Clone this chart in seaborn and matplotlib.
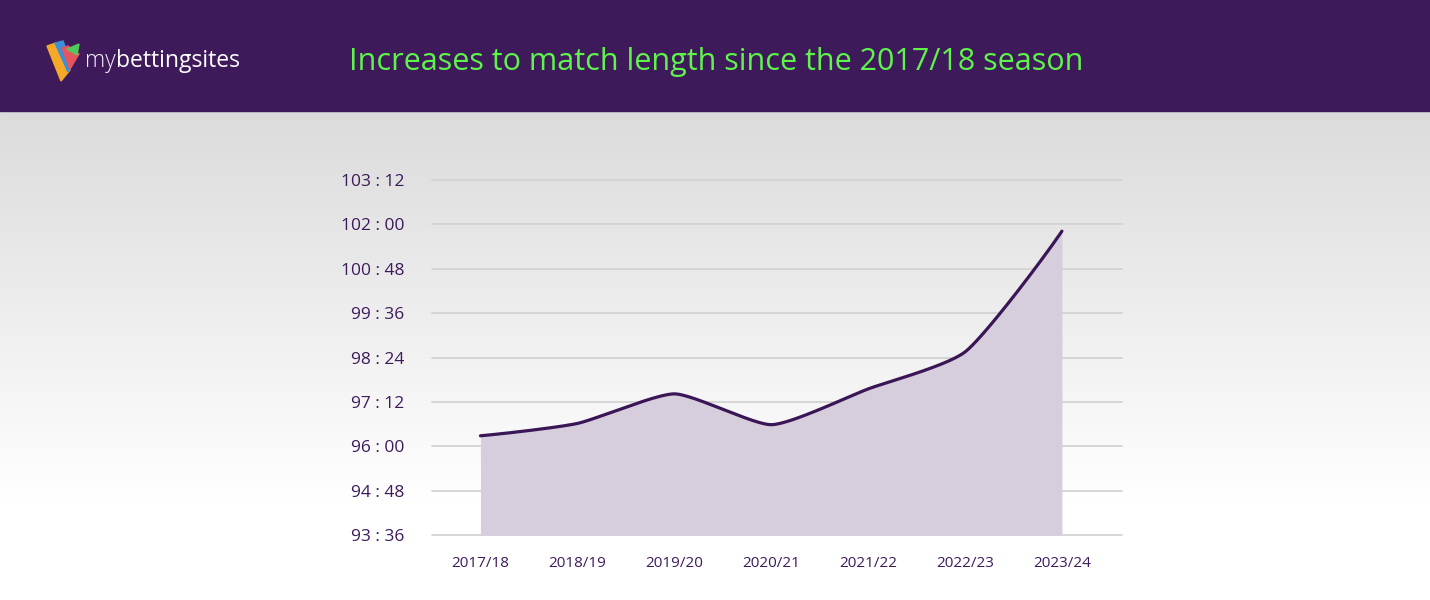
import numpy as np
import pandas as pd
import matplotlib
matplotlib.use("Agg")
import matplotlib.pyplot as plt
from matplotlib.patches import Polygon, Rectangle
import seaborn as sns

# ---------------- data ----------------
seasons = ["2017/18", "2018/19", "2019/20", "2020/21", "2021/22", "2022/23", "2023/24"]
match_seconds = [5777, 5797, 5845, 5795, 5853, 5913, 6109]   # mm:ss converted to seconds
ytick_seconds = [5616, 5688, 5760, 5832, 5904, 5976, 6048, 6120, 6192]
title = "Increases to match length since the 2017/18 season"
brand = ("my", "bettingsites")

PURPLE = "#3d1a5c"
LINE = "#3b1657"
FILL = "#d6cedd"
GRID = "#d3d3d3"
GREEN = "#5ef54b"

sns.set_theme(style="white")
plt.rcParams["font.family"] = ["Open Sans", "DejaVu Sans"]

W, H = 1430, 600
fig = plt.figure(figsize=(W / 100, H / 100), dpi=100)

# background gradient (light grey -> white) below header
bg = fig.add_axes([0, 0, 1, 1], zorder=-10)
bg.set_axis_off()
rows = np.arange(600)
t = np.clip((rows - 111) / (500 - 111), 0, 1)
vals = 0.86 + (1.0 - 0.86) * t
img = np.dstack([vals[:, None].repeat(2, 1)] * 3)
bg.imshow(img, extent=[0, 1, 0, 1], aspect="auto", origin="upper")
bg.add_patch(Rectangle((0, 1 - 111 / 600), 1, 111 / 600, color="#3e1a5b", zorder=2))
bg.set_xlim(0, 1)
bg.set_ylim(0, 1)

def P(x, y):
    return (x / W, 1 - y / H)

# logo
logo = [
    ([(47, 46), (56, 43), (70, 70), (61, 81)], "#f6a828"),
    ([(55, 43), (63, 41), (72, 64), (68, 72)], "#3b8fd6"),
    ([(62, 48), (68, 46), (79, 54), (70, 69)], "#e7545e"),
    ([(67, 49), (79, 44), (77, 55)], "#4ec95a"),
]
for pts, c in logo:
    bg.add_patch(Polygon([P(*p) for p in pts], closed=True, color=c, zorder=3))
tx = fig.text(85 / W, 1 - 61 / H, brand[0], color="#f4f0f8", fontsize=16.5,
              fontweight="light", va="center", ha="left", family=["Open Sans", "DejaVu Sans"])
fig.canvas.draw()
bb = tx.get_window_extent()
fig.text(bb.x1 / W, 1 - 61 / H, brand[1], color="white", fontsize=16.5,
         fontweight="normal", va="center", ha="left", family=["Open Sans", "DejaVu Sans"])

fig.text(716 / W, 1 - 62 / H, title, color=GREEN, fontsize=22, ha="center",
         va="center", fontweight="medium")

# ---------------- chart ----------------
ax = fig.add_axes([432 / W, 1 - 535 / H, (1122 - 432) / W, (535 - 180) / H])
ax.patch.set_alpha(0)

xs = np.arange(len(seasons), dtype=float)
ys = np.array(match_seconds, dtype=float)

# monotone tangents, drawn as cubic Bezier with short handles
s = np.diff(ys)
tang = np.zeros_like(ys)
for i in range(1, len(ys) - 1):
    s0, s1 = s[i - 1], s[i]
    p = (s0 + s1) / 2
    tang[i] = (np.sign(s0) + np.sign(s1)) * min(abs(s0), abs(s1), 0.5 * abs(p))
tang[0] = (3 * s[0] - tang[1]) / 2
tang[-1] = (3 * s[-1] - tang[-2]) / 2
k = 0.19
cx, cy = [], []
u = np.linspace(0, 1, 80)
for i in range(len(ys) - 1):
    p0 = np.array([xs[i], ys[i]])
    p3 = np.array([xs[i + 1], ys[i + 1]])
    p1 = p0 + k * np.array([1.0, tang[i]])
    p2 = p3 - k * np.array([1.0, tang[i + 1]])
    b = ((1 - u)**3)[:, None] * p0 + (3 * (1 - u)**2 * u)[:, None] * p1 \
        + (3 * (1 - u) * u**2)[:, None] * p2 + (u**3)[:, None] * p3
    cx.extend(b[:, 0])
    cy.extend(b[:, 1])
curve = pd.DataFrame({"x": cx, "y": cy})

ax.fill_between(curve["x"], ytick_seconds[0], curve["y"], color=FILL, lw=0, zorder=2)
sns.lineplot(data=curve, x="x", y="y", ax=ax, color=LINE, lw=2.3, sort=False,
             estimator=None, zorder=3)

ax.set_ylim(ytick_seconds[0], ytick_seconds[-1])
ax.set_xlim(-0.5, len(seasons) - 1 + 0.62)
ax.set_yticks(ytick_seconds)
ax.set_yticklabels([f"{v // 60} : {v % 60:02d}" for v in ytick_seconds])
ax.set_xticks(xs)
ax.set_xticklabels(seasons)
for v in ytick_seconds:
    ax.axhline(v, color=GRID, lw=1.3, zorder=1, clip_on=False)
for sp in ax.spines.values():
    sp.set_visible(False)
ax.tick_params(axis="y", length=0, pad=20, labelsize=12.5, labelcolor=PURPLE)
ax.tick_params(axis="x", length=0, pad=15, labelsize=11, labelcolor=PURPLE)
ax.set_xlabel("")
ax.set_ylabel("")
ax.grid(False)

fig.savefig("out.png", dpi=100)
